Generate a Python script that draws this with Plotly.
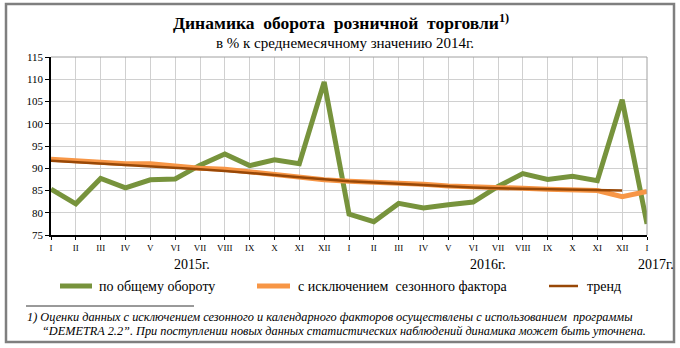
import plotly.graph_objects as go

months = ["I", "II", "III", "IV", "V", "VI", "VII", "VIII", "IX", "X", "XI", "XII",
          "I", "II", "III", "IV", "V", "VI", "VII", "VIII", "IX", "X", "XI", "XII", "I"]
total = [85.3, 82.0, 87.7, 85.6, 87.4, 87.6, 90.7, 93.2, 90.6, 91.9, 91.0, 109.4,
         79.7, 78.0, 82.1, 81.1, 81.8, 82.4, 85.9, 88.8, 87.5, 88.2, 87.2, 105.4, 77.5]
seasadj = [92.0, 91.6, 91.3, 91.0, 91.0, 90.5, 90.0, 89.8, 89.2, 88.6, 88.0, 87.4,
           87.1, 86.9, 86.6, 86.4, 86.0, 85.9, 85.6, 85.5, 85.3, 85.1, 85.0, 83.6, 84.8]
trend = [91.7, 91.4, 91.1, 90.8, 90.5, 90.2, 89.8, 89.4, 89.0, 88.5, 88.0, 87.5,
         87.1, 86.8, 86.5, 86.2, 85.9, 85.7, 85.5, 85.4, 85.3, 85.2, 85.1, 85.0]
yticks = [75, 80, 85, 90, 95, 100, 105, 110, 115]
years = ["2015г.", "2016г.", "2017г."]

x = list(range(len(months)))

GREEN = "#77933C"
ORANGE = "#F79646"
BROWN = "#984807"
SERIF = "Liberation Serif"

fig = go.Figure()
fig.add_trace(go.Scatter(x=x, y=total, mode="lines", name="по общему обороту",
                         line=dict(color=GREEN, width=5), showlegend=False))
fig.add_trace(go.Scatter(x=x, y=seasadj, mode="lines", name="с исключением  сезонного фактора",
                         line=dict(color=ORANGE, width=5), showlegend=False))
fig.add_trace(go.Scatter(x=x[:len(trend)], y=trend, mode="lines", name="тренд",
                         line=dict(color=BROWN, width=2.5), showlegend=False))

L, R, T, B = 51, 647, 57, 235
W, H = 680, 348
def px(v):
    return (v - L) / (R - L)
def py(v):
    return (B - v) / (B - T)

fig.update_layout(
    width=W, height=H,
    margin=dict(l=L, r=W - R, t=T, b=H - B),
    paper_bgcolor="white", plot_bgcolor="white",
    font=dict(family=SERIF, color="black"),
    xaxis=dict(range=[0, len(months) - 1], tickvals=x, ticktext=months,
               showgrid=True, gridcolor="#D0D0D0", gridwidth=1,
               showline=True, linecolor="black", linewidth=1.5,
               ticks="outside", ticklen=3, tickcolor="black",
               tickfont=dict(size=9, family=SERIF), zeroline=False,
               mirror=False),
    yaxis=dict(range=[75, 115], tickvals=yticks, ticktext=[str(v) for v in yticks],
               showgrid=True, gridcolor="#D0D0D0", gridwidth=1,
               showline=True, linecolor="black", linewidth=1.5,
               ticks="outside", ticklen=4, tickcolor="black",
               tickfont=dict(size=11, family=SERIF), zeroline=False),
)

shapes = []
shapes.append(dict(type="line", xref="paper", yref="paper", x0=0, x1=1, y0=1, y1=1,
                   line=dict(color="#A0A0A0", width=1)))
shapes.append(dict(type="line", xref="paper", yref="paper", x0=1, x1=1, y0=0, y1=1,
                   line=dict(color="#A0A0A0", width=1)))
shapes.append(dict(type="rect", xref="paper", yref="paper",
                   x0=px(6), x1=px(674), y0=py(4), y1=py(342),
                   line=dict(color="#7F7F7F", width=2.5)))
for xa, xb, col, w in [(60, 92, GREEN, 5), (257, 290, ORANGE, 5), (549, 578, BROWN, 2.5)]:
    shapes.append(dict(type="line", xref="paper", yref="paper",
                       x0=px(xa), x1=px(xb), y0=py(286), y1=py(286),
                       line=dict(color=col, width=w)))
shapes.append(dict(type="line", xref="paper", yref="paper",
                   x0=px(26), x1=px(194), y0=py(306), y1=py(306),
                   line=dict(color="black", width=0.8)))
fig.update_layout(shapes=shapes)

ann = []
ann.append(dict(text="<b>Динамика  оборота  розничной  торговли</b><b><sup>1)</sup></b>",
                x=px(341), y=py(22), xref="paper", yref="paper", showarrow=False,
                font=dict(size=17.5, family=SERIF), xanchor="center", yanchor="middle"))
ann.append(dict(text="в % к среднемесячному значению 2014г.",
                x=px(345), y=py(43), xref="paper", yref="paper", showarrow=False,
                font=dict(size=15, family=SERIF), xanchor="center", yanchor="middle"))
for txt, xc, anchor in [(years[0], 192, "center"), (years[1], 488, "center"), (years[2], 676, "right")]:
    ann.append(dict(text=txt, x=px(xc), y=py(264), xref="paper", yref="paper",
                    showarrow=False, font=dict(size=14, family=SERIF),
                    xanchor=anchor, yanchor="middle"))
for txt, xs in [("по общему обороту", 97), ("с исключением  сезонного фактора", 296), ("тренд", 585)]:
    ann.append(dict(text=txt, x=px(xs), y=py(286), xref="paper", yref="paper",
                    showarrow=False, font=dict(size=14, family=SERIF),
                    xanchor="left", yanchor="middle"))
ann.append(dict(text="<i>1) Оценки данных с исключением сезонного и календарного факторов осуществлены с использованием  программы</i>",
                x=px(25), y=py(317), xref="paper", yref="paper", showarrow=False,
                font=dict(size=12.3, family=SERIF), xanchor="left", yanchor="middle"))
ann.append(dict(text="<i>“DEMETRA 2.2”. При поступлении новых данных статистических наблюдений динамика может быть уточнена.</i>",
                x=px(40), y=py(331), xref="paper", yref="paper", showarrow=False,
                font=dict(size=12.3, family=SERIF), xanchor="left", yanchor="middle"))
fig.update_layout(annotations=ann)

fig.write_html("out.html")
